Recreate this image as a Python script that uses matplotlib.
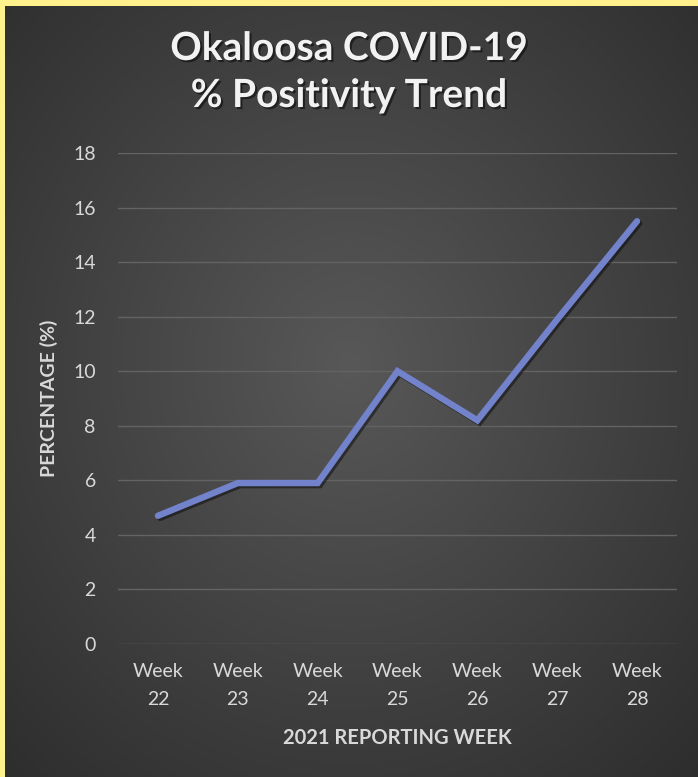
import numpy as np
import matplotlib
matplotlib.use("Agg")
import matplotlib.pyplot as plt
import matplotlib.patheffects as pe
from matplotlib.patches import Rectangle

weeks = ["Week\n22", "Week\n23", "Week\n24", "Week\n25", "Week\n26", "Week\n27", "Week\n28"]
positivity = [4.7, 5.9, 5.9, 10.0, 8.2, 11.9, 15.5]
y_ticks = [0, 2, 4, 6, 8, 10, 12, 14, 16, 18]

plt.rcParams["font.family"] = ["Lato", "DejaVu Sans"]

W, H = 698, 777
fig = plt.figure(figsize=(W / 100, H / 100), dpi=100)

# radial gradient background
bg = fig.add_axes([0, 0, 1, 1], zorder=-10)
yy, xx = np.mgrid[0:H, 0:W]
cx, cy = W * 0.5, H * 0.47
r = np.sqrt(((xx - cx) / (W * 0.75)) ** 2 + ((yy - cy) / (H * 0.75)) ** 2)
r = np.clip(r, 0, 1)
inner, outer = 0x58, 0x2c
val = (inner + (outer - inner) * r) / 255.0
img = np.dstack([val, val, val])
bg.imshow(img, extent=[0, W, H, 0], aspect="auto", interpolation="bilinear")
bg.set_xlim(0, W)
bg.set_ylim(H, 0)
bg.axis("off")
# yellow frame strips
bg.add_patch(Rectangle((0, 0), W, 6, color="#FFF18C", lw=0))
bg.add_patch(Rectangle((0, 0), 5, H, color="#FFF18C", lw=0))

ax = fig.add_axes([118 / W, 1 - 644 / H, (677 - 118) / W, (644 - 153) / H])
ax.patch.set_alpha(0)
x = np.arange(len(weeks))
ax.plot(x, positivity, color="#7282CB", lw=4.6, solid_capstyle="round",
        solid_joinstyle="miter", zorder=3,
        path_effects=[pe.SimpleLineShadow(offset=(1.5, -1.5), shadow_color="black", alpha=0.45),
                      pe.Normal()])

ax.set_xlim(-0.5, len(weeks) - 0.5)
ax.set_ylim(0, 18)
ax.set_yticks(y_ticks)
ax.set_xticks(x)
ax.set_xticklabels(weeks)
ax.grid(axis="y", color="#636363", lw=1)
ax.set_axisbelow(True)
for s in ax.spines.values():
    s.set_visible(False)
ax.tick_params(axis="both", length=0, colors="#d9d9d9", labelsize=14)
ax.tick_params(axis="y", pad=16)
ax.tick_params(axis="x", pad=14)
for lab in ax.get_xticklabels():
    lab.set_linespacing(1.75)

ax.set_ylabel("PERCENTAGE (%)", color="#d9d9d9", fontsize=14, fontweight="bold")
ax.yaxis.set_label_coords((49 - 118) / 559, 0.5)
ax.set_xlabel("2021 REPORTING WEEK", color="#d9d9d9", fontsize=14.5, fontweight="bold")
ax.xaxis.set_label_coords(0.5, -(738 - 644) / 491)
ax.xaxis.label.set_va("center")
ax.yaxis.label.set_va("center")

title_kw = dict(ha="center", va="baseline", color="#f2f2f2", fontsize=28,
                fontweight="bold",
                path_effects=[pe.withSimplePatchShadow(offset=(1.5, -1.5), shadow_rgbFace="black", alpha=0.5)])
fig.text(0.5, 1 - 60 / H, "Okaloosa COVID-19", **title_kw)
fig.text(0.5, 1 - 107 / H, "% Positivity Trend", **title_kw)

fig.savefig("out.png", dpi=100)
